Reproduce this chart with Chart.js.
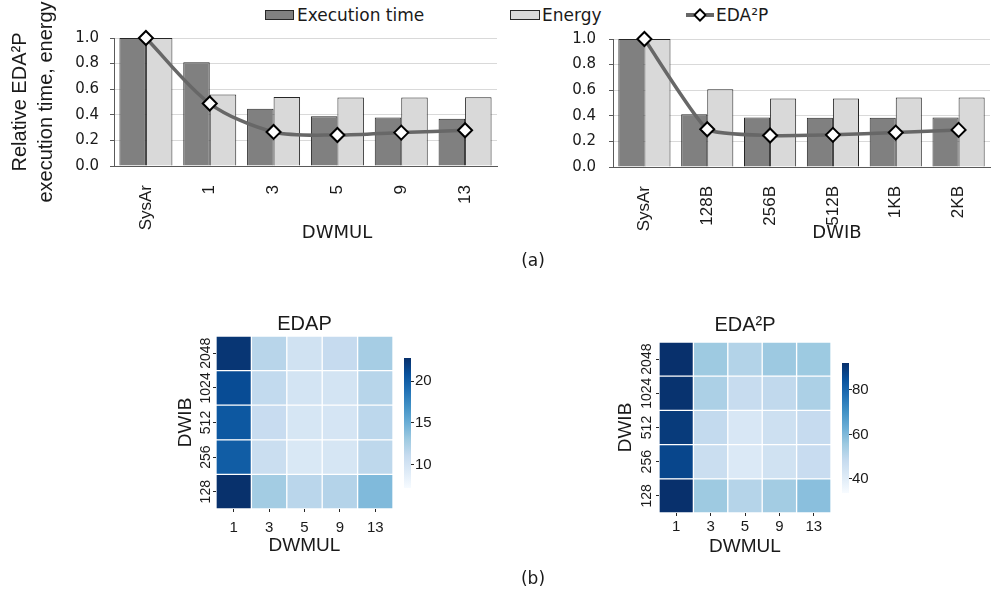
<!DOCTYPE html>
<html lang="en">
<head>
<meta charset="UTF-8">
<title>DWMUL / DWIB sweep</title>
<script src="https://cdn.jsdelivr.net/npm/chart.js"></script>
<style>
  body { margin: 0; width: 999px; height: 591px; position: relative; overflow: hidden; background: #fff; color: #1a1a1a; }
  canvas { position: absolute; }
  .txt { position: absolute; white-space: nowrap; line-height: 1; transform: translate(-50%, -50%); font-family: "DejaVu Sans", sans-serif; }
  .leg { position: absolute; white-space: nowrap; line-height: 1; font-family: "DejaVu Sans", sans-serif; font-size: 17px; transform: translateY(-50%); }
  .sw { position: absolute; box-sizing: border-box; border: 1px solid #262626; }
</style>
</head>
<body>
  <!-- shared legend -->
  <div class="sw" style="left:265px;top:10px;width:29px;height:10px;background:#808080"></div>
  <div class="leg" style="left:297px;top:15px">Execution time</div>
  <div class="sw" style="left:510px;top:10px;width:30px;height:10px;background:#d9d9d9"></div>
  <div class="leg" style="left:542px;top:15px">Energy</div>
  <div style="position:absolute;left:686px;top:13px;width:28px;height:3.5px;background:#676767"></div>
  <div style="position:absolute;left:695px;top:10px;width:10px;height:10px;box-sizing:border-box;border:2px solid #000;background:#fff;transform:rotate(45deg)"></div>
  <div class="leg" style="left:716px;top:15px">EDA²P</div>

  <canvas id="dwmulChart" width="506" height="250" style="left:0;top:0"></canvas>
  <canvas id="dwibChart" width="493" height="250" style="left:506px;top:0"></canvas>
  <div class="txt" style="left:337px;top:232px;font-size:18px">DWMUL</div>
  <div class="txt" style="left:837px;top:232px;font-size:18px">DWIB</div>
  <div class="txt" style="left:533px;top:260px;font-size:17px">(a)</div>

  <canvas id="edapHeat" width="230" height="265" style="left:170px;top:300px"></canvas>
  <canvas id="edapBar" width="60" height="265" style="left:400px;top:300px"></canvas>
  <canvas id="eda2pHeat" width="226" height="265" style="left:610px;top:300px"></canvas>
  <canvas id="eda2pBar" width="60" height="265" style="left:836px;top:300px"></canvas>
  <div class="txt" style="left:533px;top:578px;font-size:17px">(b)</div>

<script>
// (a) left: DWMUL sweep
const dwmulLabels = ['SysAr', '1', '3', '5', '9', '13'];
const dwmulExec = [1.0, 0.81, 0.448, 0.388, 0.378, 0.37];
const dwmulEnergy = [1.0, 0.558, 0.539, 0.535, 0.535, 0.538];
const dwmulEda2p = [1.0, 0.488, 0.266, 0.242, 0.261, 0.279];

// (a) right: DWIB sweep
const dwibLabels = ['SysAr', '128B', '256B', '512B', '1KB', '2KB'];
const dwibExec = [1.0, 0.413, 0.387, 0.384, 0.384, 0.387];
const dwibEnergy = [1.0, 0.608, 0.535, 0.535, 0.543, 0.543];
const dwibEda2p = [1.0, 0.295, 0.246, 0.251, 0.269, 0.29];

const yTicks = [0, 0.2, 0.4, 0.6, 0.8, 1.0];

// (b) heatmaps, rows listed bottom (128) to top (2048)
const heatCols = ['1', '3', '5', '9', '13'];
const heatRows = ['128', '256', '512', '1024', '2048'];
const edapValues = [
  [22.7, 12.8, 11.7, 12.0, 14.2],
  [20.1, 10.8, 9.6, 9.85, 11.5],
  [20.4, 11.0, 9.85, 9.9, 11.6],
  [21.1, 11.3, 10.1, 10.1, 11.85],
  [22.4, 11.8, 10.3, 11.1, 12.7]
];
const eda2pValues = [
  [92.0, 55.6, 51.4, 54.7, 58.5],
  [87.2, 47.1, 41.9, 45.3, 47.7],
  [89.7, 48.8, 42.8, 46.2, 48.3],
  [91.5, 53.1, 48.0, 49.2, 53.0],
  [92.0, 55.6, 51.8, 55.8, 55.7]
];
const edapRange = [7.26, 22.74];
const eda2pRange = [33.7, 92.1];
const edapBarTicks = [10, 15, 20];
const eda2pBarTicks = [40, 60, 80];

const bluesStops = ['#f7fbff', '#deebf7', '#c6dbef', '#9ecae1', '#6baed6', '#4292c6', '#2171b5', '#08519c', '#08306b'];

function hexRgb(h) {
  return [parseInt(h.slice(1, 3), 16), parseInt(h.slice(3, 5), 16), parseInt(h.slice(5, 7), 16)];
}

function blues(v, range) {
  let t = (v - range[0]) / (range[1] - range[0]);
  t = Math.max(0, Math.min(1, t));
  const pos = t * (bluesStops.length - 1);
  const i = Math.min(Math.floor(pos), bluesStops.length - 2);
  const f = pos - i;
  const a = hexRgb(bluesStops[i]), b = hexRgb(bluesStops[i + 1]);
  const c = a.map((x, k) => Math.round(x + (b[k] - x) * f));
  return 'rgb(' + c.join(',') + ')';
}

const sans = "'Liberation Sans', Arial, sans-serif";
const wide = "'DejaVu Sans', sans-serif";
const textColor = '#1a1a1a';
const axisColor = '#595959';

function topChart(id, labels, exec, energy, eda, g) {
  return new Chart(document.getElementById(id), {
    type: 'bar',
    data: {
      labels: labels,
      datasets: [
        {
          type: 'line', label: 'EDA²P', data: eda, order: 0, clip: false,
          borderColor: '#676767', borderWidth: 3.5, tension: g.tension,
          pointStyle: 'rectRot', pointRadius: 7, pointBackgroundColor: '#fff',
          pointBorderColor: '#000', pointBorderWidth: 2
        },
        {
          label: 'Execution time', data: exec, order: 1,
          backgroundColor: '#808080', borderColor: '#262626', borderWidth: 1,
          categoryPercentage: 0.83, barPercentage: 1
        },
        {
          label: 'Energy', data: energy, order: 1,
          backgroundColor: '#d9d9d9', borderColor: '#262626', borderWidth: 1,
          categoryPercentage: 0.83, barPercentage: 1
        }
      ]
    },
    options: {
      responsive: false,
      animation: false,
      layout: { padding: { top: g.top, right: g.right, left: 0, bottom: 0 } },
      plugins: { legend: { display: false }, tooltip: { enabled: false } },
      scales: {
        x: {
          grid: { display: false },
          border: { color: axisColor },
          ticks: {
            font: { family: sans, size: 17 }, color: textColor,
            minRotation: 90, maxRotation: 90, padding: 11, autoSkip: false
          },
          afterFit: s => { s.height = g.xH; }
        },
        y: {
          min: 0, max: 1,
          afterBuildTicks: s => { s.ticks = yTicks.map(v => ({ value: v })); },
          ticks: {
            callback: v => v.toFixed(1),
            font: { family: wide, size: 15 }, color: textColor, padding: g.tickPad
          },
          grid: { color: '#d9d9d9', tickColor: axisColor, tickLength: 4 },
          border: { color: axisColor },
          title: g.title ? {
            display: true, text: g.title, color: textColor,
            font: { family: sans, size: 20, lineHeight: '26px' },
            padding: { top: 7, bottom: 0 }
          } : { display: false },
          afterFit: s => { s.width = g.yW; }
        }
      }
    }
  });
}

function heatmap(id, values, range, title, g) {
  const datasets = heatRows.map((row, r) => ({
    label: row,
    data: heatCols.map(() => 1),
    backgroundColor: values[r].map(v => blues(v, range)),
    borderColor: '#fff', borderWidth: 1, borderSkipped: false,
    categoryPercentage: 1, barPercentage: 1
  }));
  return new Chart(document.getElementById(id), {
    type: 'bar',
    data: { labels: heatCols, datasets: datasets },
    options: {
      responsive: false,
      animation: false,
      layout: { padding: { top: 0, left: 0, right: g.right, bottom: 0 } },
      plugins: { legend: { display: false }, tooltip: { enabled: false } },
      scales: {
        x: {
          stacked: true,
          grid: { offset: false, drawOnChartArea: false, tickLength: 3, tickColor: '#262626' },
          border: { display: false },
          ticks: { font: { family: sans, size: 15 }, color: textColor, padding: g.xTickPad, maxRotation: 0 },
          title: {
            display: true, text: 'DWMUL', color: textColor,
            font: { family: sans, size: 19 },
            padding: { top: 0, bottom: g.xTitlePad }
          },
          afterFit: s => { s.height = g.xH; }
        },
        x2: {
          type: 'category', labels: heatCols, position: 'top',
          grid: { display: false }, border: { display: false }, ticks: { display: false },
          title: {
            display: true, text: title, color: textColor,
            font: { family: sans, size: 20 },
            padding: { top: g.titlePad, bottom: 0 }
          },
          afterFit: s => { s.height = g.topH; }
        },
        y: {
          stacked: true, min: 0, max: heatRows.length,
          afterBuildTicks: s => { s.ticks = heatRows.map((_, i) => ({ value: i + 0.5 })); },
          ticks: {
            callback: (v, i) => heatRows[i],
            minRotation: 90, maxRotation: 90, crossAlign: 'center',
            padding: g.yTickPad, font: { family: sans, size: 14 }, color: textColor
          },
          grid: { drawOnChartArea: false, tickLength: 3, tickColor: '#262626' },
          border: { display: false },
          title: {
            display: true, text: 'DWIB', color: textColor,
            font: { family: sans, size: 19 },
            padding: { top: g.yTitlePad, bottom: 0 }
          },
          afterFit: s => { s.width = g.yW; }
        }
      }
    }
  });
}

function colorbar(id, range, ticks, g) {
  return new Chart(document.getElementById(id), {
    type: 'bar',
    data: {
      labels: [''],
      datasets: [{
        data: [range],
        backgroundColor: ctx => {
          const area = ctx.chart.chartArea;
          if (!area) return null;
          const grad = ctx.chart.ctx.createLinearGradient(0, area.bottom, 0, area.top);
          bluesStops.forEach((c, i) => grad.addColorStop(i / (bluesStops.length - 1), c));
          return grad;
        },
        borderWidth: 0, categoryPercentage: 1, barPercentage: 1
      }]
    },
    options: {
      responsive: false,
      animation: false,
      layout: { padding: { left: g.left, top: g.top, bottom: g.bottom, right: 0 } },
      plugins: { legend: { display: false }, tooltip: { enabled: false } },
      scales: {
        x: { display: false },
        y: {
          position: 'right', min: range[0], max: range[1],
          afterBuildTicks: s => { s.ticks = ticks.map(v => ({ value: v })); },
          ticks: { font: { family: sans, size: 15 }, color: textColor, padding: g.tickPad },
          grid: { drawOnChartArea: false, tickLength: 3, tickColor: '#262626' },
          border: { display: false },
          afterFit: s => { s.width = g.yW; }
        }
      }
    }
  });
}

topChart('dwmulChart', dwmulLabels, dwmulExec, dwmulEnergy, dwmulEda2p,
  { top: 38, right: 2, yW: 114, xH: 84, tickPad: 11, tension: 0.3, title: ['Relative EDA²P', 'execution time, energy'] });
topChart('dwibChart', dwibLabels, dwibExec, dwibEnergy, dwibEda2p,
  { top: 39, right: 0, yW: 107, xH: 83, tickPad: 13, tension: 0.15 });

heatmap('edapHeat', edapValues, edapRange, 'EDAP',
  { yW: 46, topH: 36, xH: 56, right: 7, xTickPad: 7, yTickPad: -8.6, yTitlePad: 4, titlePad: 12, xTitlePad: 8 });
colorbar('edapBar', edapRange, edapBarTicks, { left: 4, top: 58, bottom: 77, yW: 49, tickPad: 1 });

heatmap('eda2pHeat', eda2pValues, eda2pRange, 'EDA²P',
  { yW: 49, topH: 42, xH: 52, right: 5, xTickPad: 2, yTickPad: -6.6, yTitlePad: 4.6, titlePad: 13, xTitlePad: 6.6 });
colorbar('eda2pBar', eda2pRange, eda2pBarTicks, { left: 6, top: 63, bottom: 72, yW: 47, tickPad: 0 });
</script>
</body>
</html>
